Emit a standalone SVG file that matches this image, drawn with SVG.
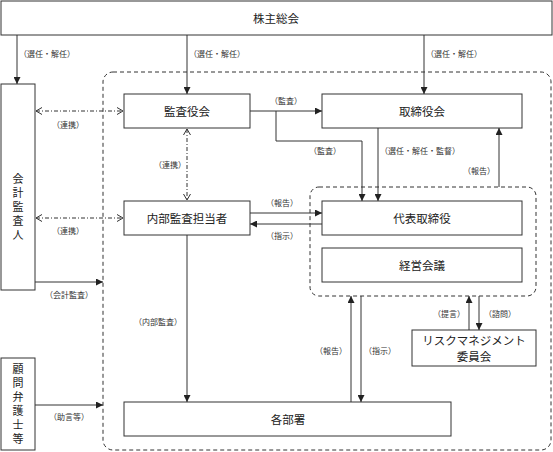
<svg xmlns="http://www.w3.org/2000/svg" width="553" height="452" viewBox="0 0 553 452">
<style>
.box{fill:#fff;stroke:#333;stroke-width:1}
.t{font-family:"Noto Sans CJK JP","Noto Sans",sans-serif;font-size:11.5px;fill:#222;text-anchor:middle;dominant-baseline:central}
.v{font-family:"Noto Sans CJK JP","Noto Sans",sans-serif;font-size:11px;fill:#222;text-anchor:middle;writing-mode:vertical-rl;letter-spacing:3px}
.l{font-family:"Noto Sans CJK JP","Noto Sans",sans-serif;font-size:8px;fill:#333;text-anchor:middle;dominant-baseline:central}
.ln{fill:none;stroke:#333;stroke-width:1}
.dd{fill:none;stroke:#333;stroke-width:1;stroke-dasharray:4 2 1 2}
.dash{fill:none;stroke:#333;stroke-width:1;stroke-dasharray:4 3}
</style>
<defs>
<marker id="a" viewBox="0 0 8 8" refX="8" refY="4" markerWidth="7" markerHeight="7" orient="auto" markerUnits="userSpaceOnUse"><path d="M0,0 L8,4 L0,8 Z" fill="#222"/></marker>
<marker id="o" viewBox="0 0 8 8" refX="7" refY="4" markerWidth="8" markerHeight="8" orient="auto-start-reverse" markerUnits="userSpaceOnUse"><path d="M1,0.5 L7,4 L1,7.5" fill="none" stroke="#333" stroke-width="1"/></marker>
</defs>
<rect width="553" height="452" fill="#fff"/>
<g id="outer-group"><rect class="dash" x="103" y="72" width="448" height="378" rx="10"/></g>
<g id="inner-group"><rect class="dash" x="310" y="187" width="226" height="109" rx="9"/></g>
<g id="kabunushi"><rect class="box" x="1" y="1" width="551" height="34"/><text class="t" x="276" y="18">株主総会</text></g>
<g id="kaikei"><rect class="box" x="1" y="84" width="34" height="206"/>
<text class="v" x="18" y="208">会計監査人</text></g>
<g id="komon"><rect class="box" x="1" y="358" width="34" height="92"/>
<text class="v" x="18" y="405">顧問弁護士等</text></g>
<g id="kansayakukai"><rect class="box" x="124" y="94" width="126" height="34"/><text class="t" x="187" y="111">監査役会</text></g>
<g id="torishimariyakukai"><rect class="box" x="322" y="94" width="200" height="34"/><text class="t" x="422" y="111">取締役会</text></g>
<g id="naibu"><rect class="box" x="124" y="201" width="126" height="34"/><text class="t" x="187" y="218">内部監査担当者</text></g>
<g id="daihyo"><rect class="box" x="322" y="201" width="200" height="34"/><text class="t" x="422" y="218">代表取締役</text></g>
<g id="keiei"><rect class="box" x="322" y="248" width="200" height="34"/><text class="t" x="422" y="265">経営会議</text></g>
<g id="risk"><rect class="box" x="412" y="330" width="124" height="36"/><text class="t" x="474" y="340">リスクマネジメント</text><text class="t" x="474" y="356">委員会</text></g>
<g id="kakubusho"><rect class="box" x="124" y="402" width="327" height="34"/><text class="t" x="288" y="419">各部署</text></g>
<g id="connectors">
<line class="ln" x1="17" y1="35" x2="17" y2="84" marker-end="url(#a)"/>
<text class="l" x="47" y="53">（選任・解任）</text>
<line class="ln" x1="187" y1="35" x2="187" y2="94" marker-end="url(#a)"/>
<text class="l" x="217" y="53">（選任・解任）</text>
<line class="ln" x1="424" y1="35" x2="424" y2="94" marker-end="url(#a)"/>
<text class="l" x="454" y="53">（選任・解任）</text>
<line class="ln" x1="250" y1="111" x2="322" y2="111" marker-end="url(#a)"/>
<text class="l" x="286" y="100">（監査）</text>
<polyline class="ln" points="276,111 276,141 362,141 362,201" marker-end="url(#a)"/>
<text class="l" x="325" y="150">（監査）</text>
<line class="ln" x1="378" y1="128" x2="378" y2="201" marker-end="url(#a)"/>
<text class="l" x="420" y="150">（選任・解任・監督）</text>
<line class="ln" x1="499" y1="187" x2="499" y2="128" marker-end="url(#a)"/>
<text class="l" x="479" y="170">（報告）</text>
<line class="dd" x1="36" y1="111" x2="123" y2="111" marker-start="url(#o)" marker-end="url(#o)"/>
<text class="l" x="68" y="124">（連携）</text>
<line class="dd" x1="187" y1="129" x2="187" y2="200" marker-start="url(#o)" marker-end="url(#o)"/>
<text class="l" x="170" y="164">（連携）</text>
<line class="dd" x1="36" y1="218" x2="123" y2="218" marker-start="url(#o)" marker-end="url(#o)"/>
<text class="l" x="68" y="230">（連携）</text>
<line class="ln" x1="250" y1="213" x2="322" y2="213" marker-end="url(#a)"/>
<text class="l" x="282" y="202">（報告）</text>
<line class="ln" x1="322" y1="224" x2="250" y2="224" marker-end="url(#a)"/>
<text class="l" x="282" y="235">（指示）</text>
<line class="ln" x1="35" y1="282" x2="103" y2="282" marker-end="url(#a)"/>
<text class="l" x="69" y="294">（会計監査）</text>
<line class="ln" x1="35" y1="405" x2="103" y2="405" marker-end="url(#a)"/>
<text class="l" x="69" y="416">（助言等）</text>
<line class="ln" x1="187" y1="235" x2="187" y2="402" marker-end="url(#a)"/>
<text class="l" x="158" y="321">（内部監査）</text>
<line class="ln" x1="351" y1="402" x2="351" y2="296" marker-end="url(#a)"/>
<text class="l" x="331" y="350">（報告）</text>
<line class="ln" x1="361" y1="296" x2="361" y2="402" marker-end="url(#a)"/>
<text class="l" x="380" y="350">（指示）</text>
<line class="ln" x1="469" y1="330" x2="469" y2="296" marker-end="url(#a)"/>
<text class="l" x="449" y="313">（提言）</text>
<line class="ln" x1="479" y1="296" x2="479" y2="330" marker-end="url(#a)"/>
<text class="l" x="500" y="313">（諮問）</text>
</g>
</svg>
